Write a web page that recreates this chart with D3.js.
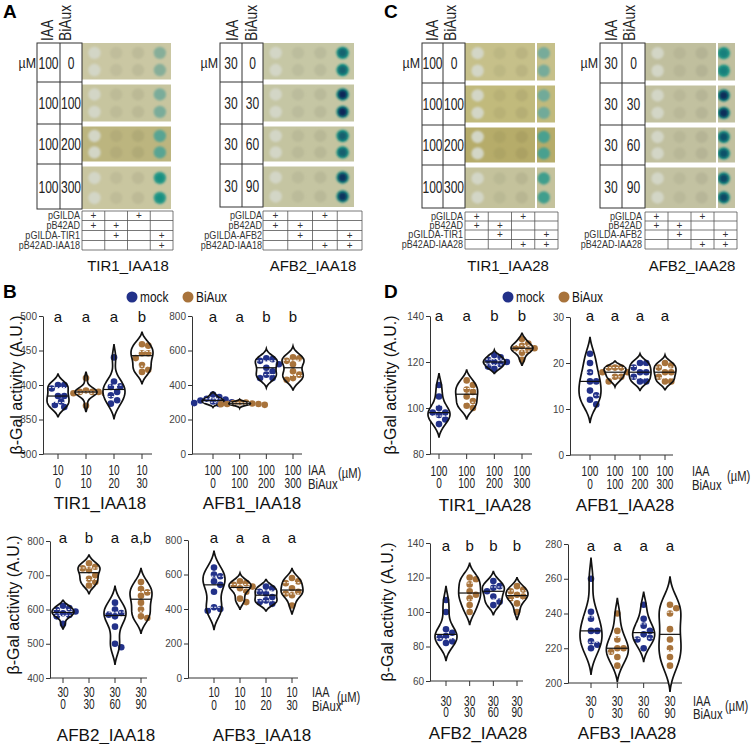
<!DOCTYPE html>
<html>
<head>
<meta charset="utf-8">
<script src="https://cdn.jsdelivr.net/npm/d3@7"></script>
<style>
body { margin: 0; background: #fff; }
svg { display: block; font-family: "Liberation Sans", Arial, sans-serif; }
</style>
</head>
<body>
<svg id="svg"></svg>
<script>
// ---- data: violin panels (beta-Gal activity, A.U.) ----
var treatments = ["mock", "BiAux", "mock", "BiAux"];

var tir1_iaa18 = [[400, 400, 395, 384, 384, 376, 371, 368],
                  [410, 392, 390, 390, 390, 388, 388, 370],
                  [440, 405, 398, 397, 390, 385, 378, 373],
                  [459, 457, 446, 446, 439, 429, 422, 419]];
var afb1_iaa18 = [[345, 330, 320, 315, 310, 305, 300, 295, 290],
                  [300, 298, 295, 293, 290, 290, 288, 285],
                  [555, 550, 540, 520, 500, 480, 460, 440, 440],
                  [560, 555, 540, 520, 480, 460, 440, 430]];
var afb2_iaa18 = [[611, 604, 599, 594, 589, 584, 580, 558],
                  [735, 725, 720, 715, 700, 690, 680, 670],
                  [620, 600, 590, 585, 580, 550, 500, 490],
                  [680, 660, 650, 640, 620, 600, 580, 575]];
var afb3_iaa18 = [[640, 600, 590, 560, 540, 500, 410, 400, 390],
                  [560, 550, 540, 530, 520, 500, 460, 440],
                  [530, 520, 500, 490, 470, 450, 440, 430],
                  [580, 560, 550, 520, 500, 490, 480, 420]];
var tir1_iaa28 = [[110, 105, 100, 98, 98, 97, 95, 93],
                  [112, 110, 108, 107, 105, 103, 101, 100],
                  [123, 122, 121, 120, 120, 119, 118, 117],
                  [130, 128, 127, 126, 126, 125, 124, 121]];
var afb1_iaa28 = [[22, 20, 18, 16, 16, 14, 13, 12, 11],
                  [19, 19, 19, 18, 18, 17, 17, 16],
                  [20, 20, 19, 18, 18, 17, 16, 16],
                  [20, 19.5, 19, 18, 18, 17, 16, 16]];
var afb2_iaa28 = [[107, 100, 90, 88, 86, 85, 83, 82],
                  [120, 119, 116, 112, 110, 108, 104, 100],
                  [118, 115, 114, 112, 109, 106, 104],
                  [115, 113, 112, 110, 109, 108, 105, 100]];
var afb3_iaa28 = [[260, 241, 237, 230, 230, 224, 222, 220],
                  [240, 230, 225, 220, 220, 218, 215, 210],
                  [245, 237, 233, 230, 228, 226, 225, 220],
                  [245, 243, 240, 231, 225, 220, 215, 210]];

var letters_tir1_iaa18 = ["a", "a", "a", "b"];
var letters_afb1_iaa18 = ["a", "a", "b", "b"];
var letters_afb2_iaa18 = ["a", "b", "a", "a,b"];
var letters_afb3_iaa18 = ["a", "a", "a", "a"];
var letters_tir1_iaa28 = ["a", "a", "b", "b"];
var letters_afb1_iaa28 = ["a", "a", "a", "a"];
var letters_afb2_iaa28 = ["a", "b", "b", "b"];
var letters_afb3_iaa28 = ["a", "a", "a", "a"];

var ticks_tir1_iaa18 = [300, 350, 400, 450, 500];
var ticks_afb1_iaa18 = [0, 200, 400, 600, 800];
var ticks_afb2_iaa18 = [400, 500, 600, 700, 800];
var ticks_afb3_iaa18 = [0, 200, 400, 600, 800];
var ticks_tir1_iaa28 = [80, 100, 120, 140];
var ticks_afb1_iaa28 = [0, 10, 20, 30];
var ticks_afb2_iaa28 = [60, 80, 100, 120, 140];
var ticks_afb3_iaa28 = [200, 220, 240, 260, 280];

var iaa_10  = ["10", "10", "10", "10"];
var iaa_30  = ["30", "30", "30", "30"];
var iaa_100 = ["100", "100", "100", "100"];
var biaux_10  = ["0", "10", "20", "30"];
var biaux_30  = ["0", "30", "60", "90"];
var biaux_100 = ["0", "100", "200", "300"];

// ---- data: yeast plates ----
var plate_iaa_tir1  = ["100", "100", "100", "100"];
var plate_bi_tir1   = ["0", "100", "200", "300"];
var plate_iaa_afb2  = ["30", "30", "30", "30"];
var plate_bi_afb2   = ["0", "30", "60", "90"];

// staining of the last (bait + prey) colony column, one per dose row, 0..1
var stain_tir1_iaa18 = [0.30, 0.38, 0.50, 0.62];
var stain_afb2_iaa18 = [0.78, 1.00, 0.80, 0.95];
var stain_tir1_iaa28 = [0.40, 0.42, 0.55, 0.58];
var stain_afb2_iaa28 = [0.68, 0.98, 0.85, 0.88];

var bg_tir1_iaa18 = ["#cac7a3", "#c7c59f", "#bcb57f", "#c9c6a0"];
var bg_afb2_iaa18 = ["#c6c7a5", "#c5c6a4", "#c4c4a0", "#c5c5a2"];
var bg_tir1_iaa28 = ["#c6c08a", "#c1ba7c", "#b6ac6a", "#c4c29c"];
var bg_afb2_iaa28 = ["#c0bf9e", "#c2c1a0", "#c1c09f", "#c3c2a2"];

var cons_iaa18_tir1 = ["pGILDA", "pB42AD", "pGILDA-TIR1", "pB42AD-IAA18"];
var cons_iaa18_afb2 = ["pGILDA", "pB42AD", "pGILDA-AFB2", "pB42AD-IAA18"];
var cons_iaa28_tir1 = ["pGILDA", "pB42AD", "pGILDA-TIR1", "pB42AD-IAA28"];
var cons_iaa28_afb2 = ["pGILDA", "pB42AD", "pGILDA-AFB2", "pB42AD-IAA28"];

var plus_a = [[1, 0, 1, 0], [1, 1, 0, 0], [0, 1, 0, 1], [0, 0, 0, 1]];
var plus_b = [[1, 0, 1, 0], [1, 1, 0, 0], [0, 1, 0, 1], [0, 0, 1, 1]];

var blue  = "#223189",
    brown = "#a8733b";

var svg = d3.select("#svg").attr("width", 753).attr("height", 744);

// condensed text: the figure uses a narrow sans, faked by a horizontal squeeze
function ntext(g, x, y, s, size, sx, anchor, rot) {
	return g.append("text")
		.attr("transform", "translate(" + x + "," + y + ")" + (rot ? " rotate(" + rot + ")" : "") + " scale(" + sx + ",1)")
		.attr("text-anchor", anchor || "start")
		.attr("font-size", size)
		.attr("fill", "#222")
		.text(s);
}

var defs = svg.append("defs");
defs.append("filter").attr("id", "soft").attr("x", "-50%").attr("y", "-50%").attr("width", "200%").attr("height", "200%")
	.append("feGaussianBlur").attr("stdDeviation", 0.8);

var stainOuter = d3.scaleLinear().domain([0, 0.4, 0.7, 1]).range(["#b4b896", "#77ab9a", "#1a9584", "#10807b"]).clamp(true);
var stainCore  = d3.scaleLinear().domain([0.6, 1]).range(["#1a9584", "#0a2858"]).clamp(true);

// ---- plates (panels A and C) ----
var plates = [
	{x0: 37,  x1: 60,  x2: 82,  xe: 171, gxe: 173, rows: [43, 82, 124, 164, 209], gy: [211, 220.5, 230.5, 240.5, 250],
	 mu: 36, hIAA: 53, hBi: 71, lab: 80, tx: 128, sep: null,
	 iaa: plate_iaa_tir1, bi: plate_bi_tir1, stain: stain_tir1_iaa18, bg: bg_tir1_iaa18, cons: cons_iaa18_tir1, plus: plus_a, title: "TIR1_IAA18"},
	{x0: 220, x1: 242, x2: 263, xe: 354, gxe: 362, rows: [43, 82, 124, 164, 207], gy: [211, 220.5, 230.5, 240.5, 250],
	 mu: 218, hIAA: 238, hBi: 257, lab: 262, tx: 313, sep: null,
	 iaa: plate_iaa_afb2, bi: plate_bi_afb2, stain: stain_afb2_iaa18, bg: bg_afb2_iaa18, cons: cons_iaa18_afb2, plus: plus_b, title: "AFB2_IAA18"},
	{x0: 422, x1: 443, x2: 465, xe: 555, gxe: 558, rows: [43, 83, 125, 165, 208], gy: [212, 221, 230, 239.5, 249],
	 mu: 420, hIAA: 438, hBi: 456, lab: 463, tx: 508, sep: 536,
	 iaa: plate_iaa_tir1, bi: plate_bi_tir1, stain: stain_tir1_iaa28, bg: bg_tir1_iaa28, cons: cons_iaa28_tir1, plus: plus_b, title: "TIR1_IAA28"},
	{x0: 600, x1: 622, x2: 645, xe: 735, gxe: 737, rows: [43, 83, 125, 165, 208], gy: [212, 221, 230, 239.5, 249],
	 mu: 598, hIAA: 617, hBi: 635, lab: 642, tx: 692, sep: 717,
	 iaa: plate_iaa_afb2, bi: plate_bi_afb2, stain: stain_afb2_iaa28, bg: bg_afb2_iaa28, cons: cons_iaa28_afb2, plus: plus_b, title: "AFB2_IAA28"}
];

plates.forEach(function(p) {
	var g = svg.append("g"),
	    r = p.rows;

	// plate strips, one per dose row
	for (var i = 0; i < 4; i++) {
		var top = r[i] + (i ? 2.5 : 0),
		    bot = r[i + 1] - (i < 3 ? 2.5 : 0);
		g.append("rect").attr("x", p.x2).attr("y", top).attr("width", p.xe - p.x2).attr("height", bot - top)
			.attr("fill", p.bg[i]);

		var sx = d3.scaleLinear().domain([0, 3]).range([p.x2 + 0.14 * (p.xe - p.x2), p.x2 + 0.875 * (p.xe - p.x2)]);
		[0.27, 0.74].forEach(function(f) {
			var cy = top + f * (bot - top);
			for (var c = 0; c < 4; c++) {
				var col;
				if (c === 0) col = "#d3d6c6";
				else if (c === 3) col = stainOuter(p.stain[i]);
				else col = d3.color(p.bg[i]).darker(0.1 + 0.04 * c);
				g.append("circle").attr("cx", sx(c)).attr("cy", cy).attr("r", 6.2)
					.attr("fill", col).attr("filter", "url(#soft)");
				if (c === 3 && p.stain[i] > 0.6) {
					g.append("circle").attr("cx", sx(c)).attr("cy", cy).attr("r", 4)
						.attr("fill", stainCore(p.stain[i])).attr("filter", "url(#soft)");
				}
			}
		});
	}
	if (p.sep) {
		g.append("line").attr("x1", p.sep).attr("x2", p.sep).attr("y1", r[0]).attr("y2", r[4])
			.attr("stroke", "#fff").attr("stroke-width", 2);
	}

	// dose table
	g.append("rect").attr("x", p.x0).attr("y", r[0]).attr("width", p.x2 - p.x0).attr("height", r[4] - r[0])
		.attr("fill", "none").attr("stroke", "#333").attr("stroke-width", 1);
	g.append("line").attr("x1", p.x1).attr("x2", p.x1).attr("y1", r[0]).attr("y2", r[4]).attr("stroke", "#333");
	r.slice(1, 4).forEach(function(yy) {
		g.append("line").attr("x1", p.x0).attr("x2", p.x2).attr("y1", yy).attr("y2", yy).attr("stroke", "#333");
	});
	for (var j = 0; j < 4; j++) {
		var ym = (r[j] + r[j + 1]) / 2 + 6;
		ntext(g, (p.x0 + p.x1) / 2, ym, p.iaa[j], 16.5, 0.73, "middle");
		ntext(g, (p.x1 + p.x2) / 2, ym, p.bi[j], 16.5, 0.73, "middle");
	}
	ntext(g, p.mu, 68, "\u00b5M", 15.5, 0.8, "end");
	ntext(g, p.hIAA, 41, "IAA", 16.5, 0.8, "start", -90);
	ntext(g, p.hBi, 41, "BiAux", 16.5, 0.84, "start", -90);

	// construct grid
	var gx = d3.scaleLinear().domain([0, 4]).range([p.x2, p.gxe]);
	p.gy.forEach(function(yy) {
		g.append("line").attr("x1", p.x2).attr("x2", p.gxe).attr("y1", yy).attr("y2", yy).attr("stroke", "#555").attr("stroke-width", 0.8);
	});
	d3.range(5).forEach(function(k) {
		g.append("line").attr("x1", gx(k)).attr("x2", gx(k)).attr("y1", p.gy[0]).attr("y2", p.gy[4]).attr("stroke", "#555").attr("stroke-width", 0.8);
	});
	p.cons.forEach(function(name, i) {
		ntext(g, p.lab, p.gy[i + 1] - 1.5, name, 10.5, 0.86, "end").attr("fill", "#333");
		p.plus[i].forEach(function(on, k) {
			if (on) {
				g.append("text").attr("x", gx(k + 0.5)).attr("y", p.gy[i + 1] - 1.5).attr("text-anchor", "middle")
					.attr("font-size", 10).attr("fill", "#333").text("+");
			}
		});
	});
	g.append("text").attr("x", p.tx).attr("y", 271).attr("text-anchor", "middle")
		.attr("font-size", 15).attr("fill", "#111").text(p.title);
});

// ---- violin panels (B and D) ----
var panels = [
	{ax: 43,  axe: 152, yt: 316, yb: 454, c0: 58,  c1: 142, l1: 475, l2: 488, ly: 322, tx: 100, ty: 509,
	 data: tir1_iaa18, ticks: ticks_tir1_iaa18, letters: letters_tir1_iaa18, iaa: iaa_10, bi: biaux_10, title: "TIR1_IAA18"},
	{ax: 192, axe: 302, yt: 316, yb: 454, c0: 213, c1: 293, l1: 475, l2: 488, ly: 322, tx: 252, ty: 509,
	 unit: {x: 308, ux: 338, uy: 478},
	 data: afb1_iaa18, ticks: ticks_afb1_iaa18, letters: letters_afb1_iaa18, iaa: iaa_100, bi: biaux_100, title: "AFB1_IAA18"},
	{ax: 50,  axe: 147, yt: 541, yb: 678, c0: 63,  c1: 141, l1: 697, l2: 709, ly: 543, tx: 106, ty: 741,
	 data: afb2_iaa18, ticks: ticks_afb2_iaa18, letters: letters_afb2_iaa18, iaa: iaa_30, bi: biaux_30, title: "AFB2_IAA18"},
	{ax: 188, axe: 298, yt: 540, yb: 678, c0: 214, c1: 292, l1: 697, l2: 710, ly: 543, tx: 262, ty: 741,
	 unit: {x: 312, ux: 337, uy: 702},
	 data: afb3_iaa18, ticks: ticks_afb3_iaa18, letters: letters_afb3_iaa18, iaa: iaa_10, bi: biaux_10, title: "AFB3_IAA18"},
	{ax: 430, axe: 532, yt: 316, yb: 454, c0: 439, c1: 522, l1: 476, l2: 488, ly: 321, tx: 485, ty: 511,
	 data: tir1_iaa28, ticks: ticks_tir1_iaa28, letters: letters_tir1_iaa28, iaa: iaa_100, bi: biaux_100, title: "TIR1_IAA28"},
	{ax: 570, axe: 673, yt: 317, yb: 455, c0: 590, c1: 665, l1: 476, l2: 489, ly: 321, tx: 625, ty: 511,
	 unit: {x: 692, ux: 727, uy: 481},
	 data: afb1_iaa28, ticks: ticks_afb1_iaa28, letters: letters_afb1_iaa28, iaa: iaa_100, bi: biaux_100, title: "AFB1_IAA28"},
	{ax: 430, axe: 523, yt: 543, yb: 681, c0: 446, c1: 517, l1: 706, l2: 717, ly: 551, tx: 478, ty: 739,
	 data: afb2_iaa28, ticks: ticks_afb2_iaa28, letters: letters_afb2_iaa28, iaa: iaa_30, bi: biaux_30, title: "AFB2_IAA28"},
	{ax: 568, axe: 682, yt: 544, yb: 683, c0: 591, c1: 670, l1: 706, l2: 718, ly: 551, tx: 627, ty: 739,
	 unit: {x: 693, ux: 725, uy: 711},
	 data: afb3_iaa28, ticks: ticks_afb3_iaa28, letters: letters_afb3_iaa28, iaa: iaa_30, bi: biaux_30, title: "AFB3_IAA28"}
];

// kernel density outline in pixel space, tapered to points at the tails
function violinShape(py) {
	var sd = d3.deviation(py) || 1;
	var bw = Math.max(1.6, 0.9 * sd * Math.pow(py.length, -0.2));
	var grid = d3.range(d3.min(py) - 3.5 * bw, d3.max(py) + 3.5 * bw, 0.5);
	var dens = grid.map(function(gv) {
		return d3.sum(py, function(v) { return Math.exp(-0.5 * Math.pow((gv - v) / bw, 2)); });
	});
	var mx = d3.max(dens), t = 0.06 * mx;
	var pts = grid.map(function(gv, i) { return [gv, Math.max(0, (dens[i] - t) / (mx - t))]; });
	var a = 0, b = pts.length - 1;
	while (a < b && pts[a][1] === 0) a++;
	while (b > a && pts[b][1] === 0) b--;
	return pts.slice(Math.max(0, a - 1), b + 2);
}

function widthAt(shape, yy) {
	var best = shape[0];
	shape.forEach(function(s) { if (Math.abs(s[0] - yy) < Math.abs(best[0] - yy)) best = s; });
	return best[1];
}

// simple deterministic beeswarm offsets
function swarm(py, r) {
	var placed = [], out = py.map(function() { return 0; });
	var order = d3.range(py.length).sort(function(a, b) { return py[a] - py[b]; });
	var offs = [0];
	for (var k = 1; k < 10; k++) offs.push(k * r * 0.95, -k * r * 0.95);
	order.forEach(function(i) {
		for (var j = 0; j < offs.length; j++) {
			var ok = placed.every(function(q) {
				var dx = q[0] - offs[j], dy = q[1] - py[i];
				return dx * dx + dy * dy >= 3.4 * r * r;
			});
			if (ok) { out[i] = offs[j]; placed.push([offs[j], py[i]]); break; }
		}
	});
	return out;
}

var hw = 11, pr = 3.3;

panels.forEach(function(p) {
	var g = svg.append("g");
	var y = d3.scaleLinear().domain(d3.extent(p.ticks)).range([p.yb, p.yt]);
	var x = d3.scalePoint().domain(d3.range(p.data.length)).range([p.c0, p.c1]);

	var ya = g.append("g").attr("transform", "translate(" + p.ax + ",0)")
		.call(d3.axisLeft(y).tickValues(p.ticks).tickSize(4).tickPadding(2).tickSizeOuter(0));
	ya.attr("font-family", null);
	ya.select(".domain").attr("stroke", "#333");
	ya.selectAll(".tick line").attr("stroke", "#333");
	ya.selectAll(".tick text").attr("font-size", 10).attr("fill", "#444");

	g.append("line").attr("x1", p.ax).attr("x2", p.axe).attr("y1", p.yb).attr("y2", p.yb).attr("stroke", "#333");

	p.data.forEach(function(vals, i) {
		var cx = x(i);
		var col = treatments[i] === "mock" ? blue : brown;
		var sorted = vals.slice().sort(d3.ascending);
		var py = sorted.map(y);
		var shape = violinShape(py);
		var area = d3.area()
			.y(function(d) { return d[0]; })
			.x0(function(d) { return cx - hw * d[1]; })
			.x1(function(d) { return cx + hw * d[1]; })
			.curve(d3.curveBasis);

		g.append("line").attr("x1", cx).attr("x2", cx).attr("y1", p.yb).attr("y2", p.yb + 5).attr("stroke", "#333");

		g.append("path").attr("d", area(shape)).attr("fill", "#fff").attr("stroke", "none");

		var off = swarm(py, pr);
		py.forEach(function(v, k) {
			g.append("circle").attr("cx", cx + off[k]).attr("cy", v).attr("r", pr).attr("fill", col);
		});

		g.append("path").attr("d", area(shape)).attr("fill", "none").attr("stroke", "#111").attr("stroke-width", 1.7);

		[0.25, 0.75].forEach(function(q) {
			var qy = y(d3.quantile(sorted, q)), w = hw * widthAt(shape, qy);
			g.append("line").attr("x1", cx - w + 1).attr("x2", cx + w - 1).attr("y1", qy).attr("y2", qy)
				.attr("stroke", "#fff").attr("stroke-width", 1).attr("stroke-dasharray", "2,1.5");
		});
		var my = y(d3.quantile(sorted, 0.5)), mw = hw * widthAt(shape, my);
		g.append("line").attr("x1", cx - mw).attr("x2", cx + mw).attr("y1", my).attr("y2", my)
			.attr("stroke", "#111").attr("stroke-width", 1.2);

		g.append("text").attr("x", cx).attr("y", p.ly).attr("text-anchor", "middle")
			.attr("font-size", 15).attr("fill", "#111").text(p.letters[i]);
		ntext(g, cx, p.l1, p.iaa[i], 14, 0.72, "middle");
		ntext(g, cx, p.l2, p.bi[i], 14, 0.72, "middle");
	});

	if (p.unit) {
		ntext(g, p.unit.x, p.l1, "IAA", 14.5, 0.75);
		ntext(g, p.unit.x, p.l2 + 1, "BiAux", 14.5, 0.78);
		ntext(g, p.unit.ux, p.unit.uy, "(\u00b5M)", 14, 0.8);
	}

	g.append("text").attr("x", p.tx).attr("y", p.ty).attr("text-anchor", "middle")
		.attr("font-size", 17).attr("fill", "#111").text(p.title);
});

// y-axis titles
[[22, 385], [19, 605], [396, 385], [393, 612]].forEach(function(pos) {
	svg.append("text").attr("transform", "translate(" + pos[0] + "," + pos[1] + ") rotate(-90)")
		.attr("text-anchor", "middle").attr("font-size", 16).attr("fill", "#111").text("\u03b2-Gal activity (A.U.)");
});

// legends
[132, 508].forEach(function(lx) {
	var lg = svg.append("g").attr("transform", "translate(" + lx + ",297)");
	lg.append("circle").attr("r", 5.5).attr("fill", blue);
	ntext(lg, 8, 5, "mock", 14.5, 0.82).attr("fill", "#111");
	lg.append("circle").attr("cx", 56).attr("r", 5.5).attr("fill", brown);
	ntext(lg, 64, 5, "BiAux", 14.5, 0.82).attr("fill", "#111");
});

// panel letters
[["A", 3, 18], ["B", 3, 298], ["C", 384, 18], ["D", 384, 298]].forEach(function(l) {
	svg.append("text").attr("x", l[1]).attr("y", l[2]).attr("font-size", 19).attr("font-weight", "bold")
		.attr("fill", "#000").text(l[0]);
});
</script>
</body>
</html>
